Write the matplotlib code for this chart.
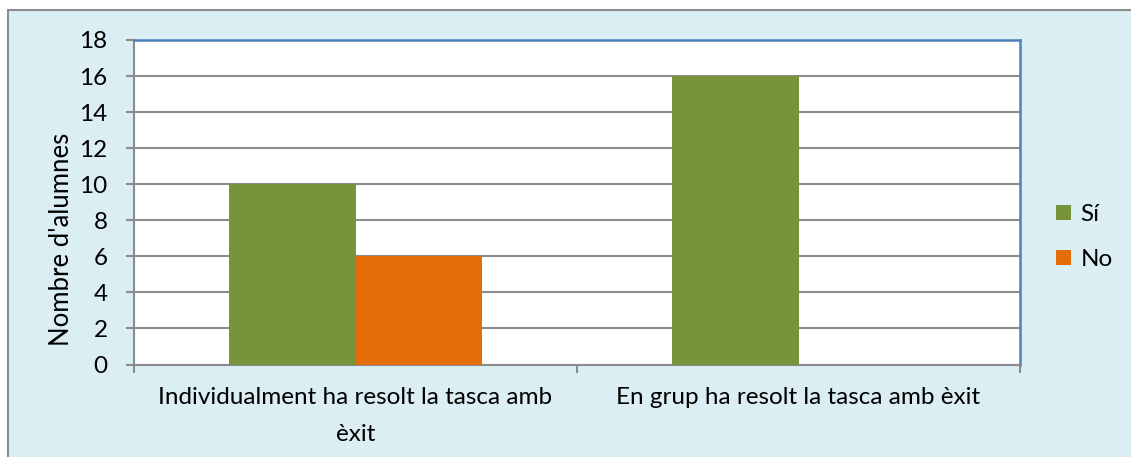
import numpy as np
import matplotlib.pyplot as plt
from matplotlib.patches import Rectangle

categories = ['Individualment ha resolt la tasca amb\nèxit', 'En grup ha resolt la tasca amb èxit']
si_values = [10, 16]
no_values = [6, 0]
y_ticks = [0, 2, 4, 6, 8, 10, 12, 14, 16, 18]

plt.rcParams['font.family'] = ['Lato', 'DejaVu Sans']

W, H = 1131, 457
fig = plt.figure(figsize=(W / 100, H / 100), dpi=100)
fig.patch.set_facecolor('white')

# outer chart frame (runs off the right and bottom edges)
fig.patches.append(Rectangle((8 / W, -0.1), 1.2, 1 - 10 / H + 0.1, transform=fig.transFigure,
                             facecolor='#DAEEF3', edgecolor='#8C8C8C', linewidth=1.5, zorder=-5))

ax = fig.add_axes([134 / W, 1 - 364.5 / H, (1020 - 134) / W, (364.5 - 40) / H])
ax.set_facecolor('white')

x = np.arange(len(categories))
w = 0.285
ax.bar(x - w / 2, si_values, w, color='#77933C', label='Sí', zorder=3)
ax.bar(x + w / 2, no_values, w, color='#E46C0A', label='No', zorder=3)

ax.set_xlim(-0.5, 1.5)
ax.set_ylim(0, 18)
ax.set_yticks(y_ticks)
ax.yaxis.grid(True, color='#8C8C8C', linewidth=1.5, zorder=1)
ax.set_axisbelow(True)

fs = 17.5
ax.set_xticks([-0.5, 0.5, 1.5], minor=False)
ax.set_xticklabels([])
ax.set_xticks(x, minor=True)
ax.set_xticklabels(categories, minor=True, fontsize=fs, linespacing=1.95)
ax.tick_params(axis='x', which='minor', length=0, pad=16)
ax.tick_params(axis='x', which='major', length=6, width=1.5, color='#8C8C8C', direction='out')
ax.tick_params(axis='y', length=6, width=1.5, color='#8C8C8C', direction='out', labelsize=fs, pad=13)

for s in ['left', 'bottom']:
    ax.spines[s].set_color('#8C8C8C')
    ax.spines[s].set_linewidth(1.5)
for s in ['top', 'right']:
    ax.spines[s].set_color('#4F81BD')
    ax.spines[s].set_linewidth(1.8)

# axis title sits a little below the middle, as in the original
ax.text(-0.082, 0.387, "Nombre d'alumnes", transform=ax.transAxes, rotation=90,
        ha='center', va='center', fontsize=18.5)

ax.legend(loc='upper left', bbox_to_anchor=(1.03, 0.525), frameon=False, fontsize=fs,
          handlelength=0.6, handleheight=0.6, handletextpad=0.4, labelspacing=1.0,
          borderaxespad=0)

fig.savefig('out.png', dpi=100)
